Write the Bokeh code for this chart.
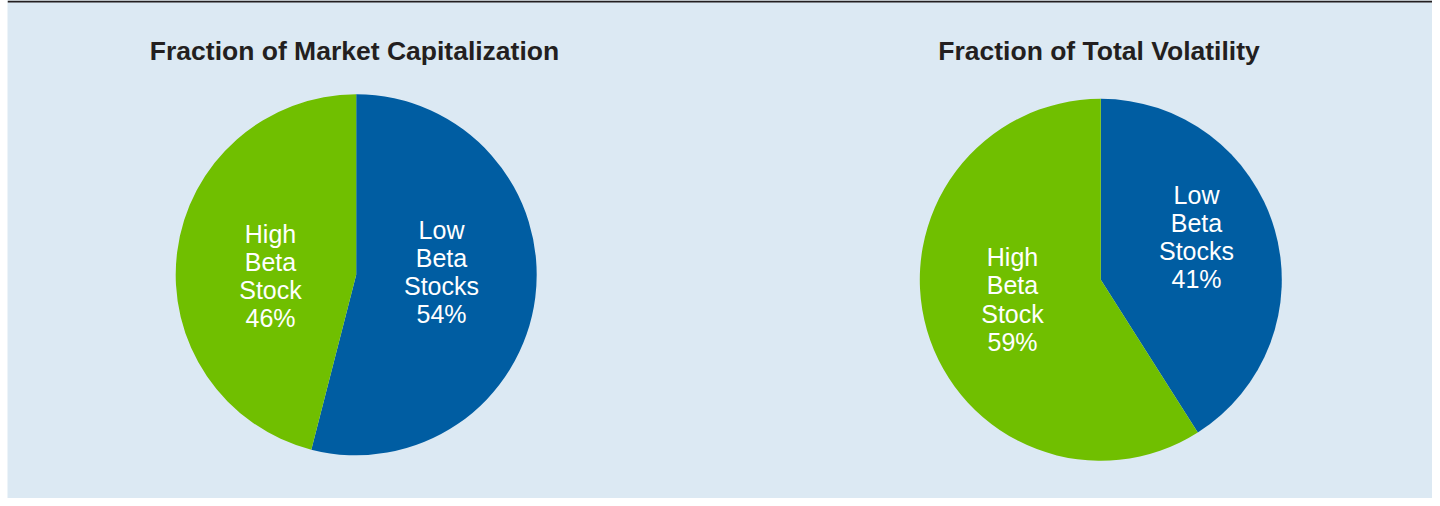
import math
from bokeh.plotting import figure
from bokeh.models import Range1d, ColumnDataSource, Span
from bokeh.core.properties import value
from bokeh.embed import file_html
from bokeh.resources import INLINE

# ---- data ----
chart_titles = ["Fraction of Market Capitalization", "Fraction of Total Volatility"]
slice_names = ["Low\nBeta\nStocks", "High\nBeta\nStock"]
market_cap_pct = [54, 46]
volatility_pct = [41, 59]
slice_colors = ["#005da2", "#70bf00"]

W, H = 1432, 498
LEFT = 7
BG = "#dce9f3"

p = figure(width=W, height=H, output_backend="svg", toolbar_location=None,
           x_range=Range1d(LEFT, W), y_range=Range1d(0, H),
           background_fill_color=BG, border_fill_color="white",
           min_border=0, min_border_left=LEFT, outline_line_color=None)
p.axis.visible = False
p.grid.visible = False

# layout: pie center x, center y, radius; title x, label offsets per slice
pies = [(355.7, 223.7, 180.5), (1100.3, 218.7, 181.0)]
title_x = [354, 1098.5]
title_y = 448
label_offsets = [[(85.3, 2.8), (-85.7, -1.2)], [(95.7, 42.8), (-88.3, -19.7)]]
series = [market_cap_pct, volatility_pct]
line_h = 28.3

for (cx, cy, r), vals, title, offs, tx0 in zip(pies, series, chart_titles, label_offsets, title_x):
    total = float(sum(vals))
    starts, ends, xs, ys, cols = [], [], [], [], []
    tx, ty, tt = [], [], []
    acc = 0.0
    for v, name, col, (dx, dy) in zip(vals, slice_names, slice_colors, offs):
        a0 = math.pi / 2 - 2 * math.pi * acc / total
        a1 = math.pi / 2 - 2 * math.pi * (acc + v) / total
        starts.append(a0)
        ends.append(a1)
        cols.append(col)
        xs.append(cx)
        ys.append(cy)
        lx, ly = cx + dx, cy + dy
        lines = name.split("\n") + [f"{v}%"]
        n = len(lines)
        for i, ln in enumerate(lines):
            tx.append(lx)
            ty.append(ly + (n - 1) / 2 * line_h - i * line_h)
            tt.append(ln)
        acc += v
    src = ColumnDataSource(dict(x=xs, y=ys, s=starts, e=ends, c=cols))
    p.wedge(x="x", y="y", radius=r, start_angle="s", end_angle="e",
            direction="clock", fill_color="c", line_color=None, source=src)
    p.text(x=tx, y=ty, text=tt, text_align="center", text_baseline="middle",
           text_color="white", text_font=value("Liberation Sans"),
           text_font_size="25px")
    p.text(x=[tx0], y=[title_y], text=[title], text_align="center",
           text_baseline="middle", text_color="#231f20",
           text_font=value("Liberation Sans"), text_font_style="bold",
           text_font_size="26.5px")

p.add_layout(Span(location=H - 1, dimension="width", line_color="#231f20", line_width=2))

open("out.html", "w").write(file_html(p, INLINE))
